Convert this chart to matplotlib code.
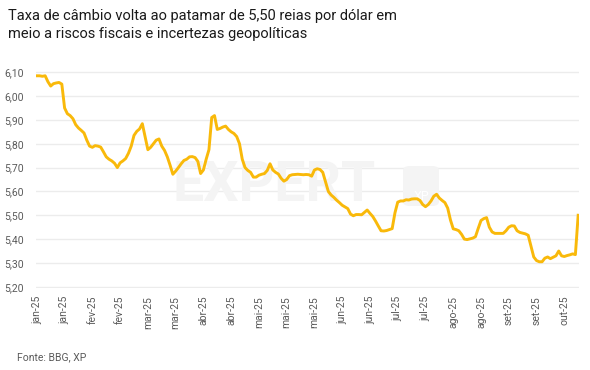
import matplotlib
matplotlib.use("Agg")
import matplotlib.pyplot as plt
from matplotlib.patches import FancyBboxPatch

title = "Taxa de câmbio volta ao patamar de 5,50 reias por dólar em\nmeio a riscos fiscais e incertezas geopolíticas"
source = "Fonte: BBG, XP"

tick_labels = ["jan-25", "jan-25", "fev-25", "fev-25", "mar-25", "mar-25", "abr-25", "abr-25",
               "mai-25", "mai-25", "mai-25", "jun-25", "jun-25", "jul-25", "jul-25",
               "ago-25", "ago-25", "set-25", "set-25", "out-25"]
tick_step = 10

y_ticks = [5.20, 5.30, 5.40, 5.50, 5.60, 5.70, 5.80, 5.90, 6.00, 6.10]

usdbrl = [
    6.085, 6.085, 6.083, 6.085, 6.060, 6.042, 6.052, 6.055, 6.057, 6.050,
    5.950, 5.926, 5.918, 5.905, 5.880, 5.866, 5.856, 5.845, 5.815, 5.790,
    5.785, 5.792, 5.790, 5.786, 5.766, 5.745, 5.735, 5.728, 5.718, 5.700,
    5.720, 5.728, 5.738, 5.760, 5.790, 5.835, 5.852, 5.862, 5.884, 5.830,
    5.775, 5.785, 5.800, 5.815, 5.820, 5.790, 5.772, 5.745, 5.710, 5.672,
    5.685, 5.700, 5.716, 5.730, 5.735, 5.745, 5.746, 5.742, 5.726, 5.675,
    5.690, 5.735, 5.775, 5.910, 5.918, 5.860, 5.864, 5.870, 5.874, 5.860,
    5.850, 5.843, 5.830, 5.800, 5.735, 5.700, 5.688, 5.680, 5.660, 5.660,
    5.668, 5.672, 5.675, 5.688, 5.716, 5.690, 5.680, 5.673, 5.655, 5.643,
    5.650, 5.666, 5.670, 5.671, 5.672, 5.671, 5.670, 5.671, 5.670, 5.664,
    5.690, 5.695, 5.692, 5.680, 5.640, 5.600, 5.585, 5.575, 5.563, 5.553,
    5.542, 5.535, 5.528, 5.505, 5.498, 5.503, 5.503, 5.502, 5.512, 5.522,
    5.508, 5.495, 5.476, 5.455, 5.435, 5.434, 5.436, 5.440, 5.444, 5.510,
    5.555, 5.560, 5.560, 5.565, 5.564, 5.568, 5.569, 5.569, 5.562, 5.545,
    5.536, 5.545, 5.560, 5.580, 5.588, 5.572, 5.562, 5.553, 5.530, 5.480,
    5.443, 5.440, 5.435, 5.420, 5.400, 5.398, 5.401, 5.404, 5.410, 5.445,
    5.478, 5.486, 5.490, 5.450, 5.430, 5.424, 5.424, 5.424, 5.424, 5.435,
    5.450, 5.456, 5.455, 5.435, 5.428, 5.425, 5.422, 5.416, 5.370, 5.325,
    5.310, 5.305, 5.305, 5.320, 5.325, 5.318, 5.324, 5.330, 5.350, 5.330,
    5.327, 5.331, 5.334, 5.338, 5.335, 5.500,
]

plt.rcParams['font.family'] = ['Roboto', 'DejaVu Sans']

W, H = 590, 370
fig = plt.figure(figsize=(W / 100, H / 100), dpi=100)
fig.patch.set_facecolor("white")

ax = fig.add_axes([36 / W, 1 - 287.5 / H, (579 - 36) / W, (287.5 - 71.5) / H])
ax.set_facecolor("none")

x = list(range(len(usdbrl)))

# watermark (behind the line)
ax.text(274 / W, 1 - 186 / H, "EXPERT", fontsize=40, fontweight="bold", color="#f4f4f4",
        ha="center", va="center", transform=fig.transFigure, zorder=1, fontstretch="expanded")
box = FancyBboxPatch((403 / W, 1 - 206 / H), 36 / W, 40 / H,
                     boxstyle="round,pad=0.0,rounding_size=0.012",
                     transform=fig.transFigure, facecolor="#f4f4f4", edgecolor="none",
                     zorder=1, clip_on=False)
ax.add_patch(box)
ax.text(422 / W, 1 - 196 / H, "XP", fontsize=9, color="white", ha="center", va="center",
        transform=fig.transFigure, zorder=1.5)

ax.plot(x, usdbrl, color="#F9B90A", linewidth=2.1, solid_joinstyle="round", zorder=3)

ax.set_ylim(5.197, 6.103)
ax.set_xlim(-0.3, len(usdbrl) - 0.7)
ax.set_yticks(y_ticks)
ax.set_yticklabels([f"{v:.2f}".replace(".", ",") for v in y_ticks])
ax.set_xticks(list(range(0, tick_step * len(tick_labels), tick_step)))
ax.set_xticklabels(tick_labels, rotation=90)

ax.grid(axis="y", color="#ececec", linewidth=1.0, zorder=0)
ax.set_axisbelow(True)
for s in ax.spines.values():
    s.set_visible(False)
ax.tick_params(axis="both", length=0, labelcolor="#5a5a5a", labelsize=7.5)
ax.tick_params(axis="y", pad=9)
ax.tick_params(axis="x", pad=6)

fig.text(8 / W, 1 - 9 / H, title, fontsize=10.5, color="#1a1a1a", ha="left", va="top",
         linespacing=1.35)
fig.text(17 / W, 1 - 357 / H, source, fontsize=7.5, color="#5a5a5a", ha="left", va="center")

fig.savefig("out.png", dpi=100, facecolor="white")
